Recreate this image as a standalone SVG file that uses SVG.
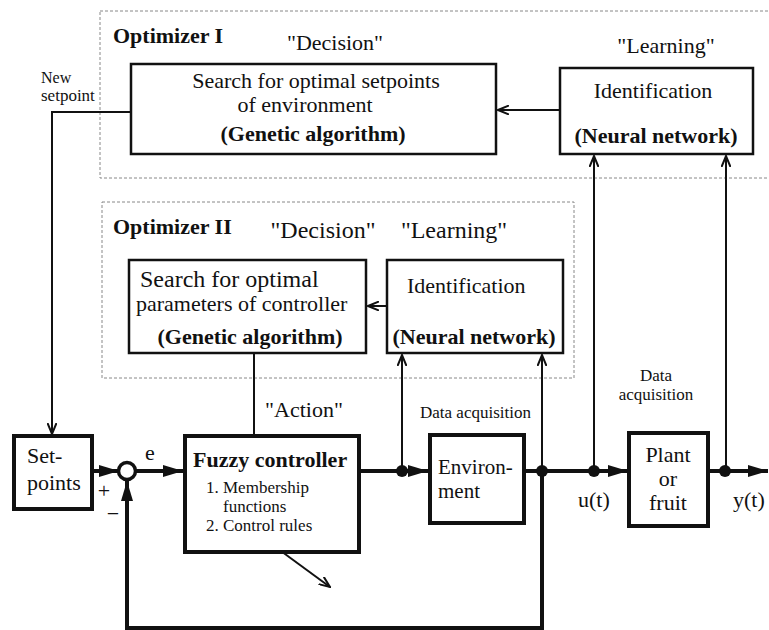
<svg xmlns="http://www.w3.org/2000/svg" width="769" height="630" viewBox="0 0 769 630" font-family="'Liberation Serif', 'Times New Roman', 'DejaVu Serif', serif">
<style>
text{font-family:"Liberation Serif","Times New Roman","DejaVu Serif",serif;fill:#111;}
.t22{font-size:22px;}
.t21{font-size:21px;}
.t24{font-size:24px;}
.t17{font-size:17px;}
.t16{font-size:16px;}
.b{font-weight:bold;}
.m{text-anchor:middle;}
.box{fill:#fff;stroke:#111;stroke-width:2.5;}
.tbox{fill:#fff;stroke:#111;stroke-width:4;}
.dash{fill:none;stroke:#888;stroke-width:1;stroke-dasharray:3 2;}
.thin{fill:none;stroke:#111;stroke-width:2;}
.thick{fill:none;stroke:#111;stroke-width:4;}
.dot{fill:#111;}
</style>
<defs>
<marker id="open" viewBox="0 0 12 10" refX="11" refY="5" markerWidth="12" markerHeight="10" markerUnits="userSpaceOnUse" orient="auto">
<path d="M0,0.5 L11,5 L0,9.5" fill="none" stroke="#111" stroke-width="2"/>
</marker>
<marker id="fill" viewBox="0 0 20 12" refX="20" refY="6" markerWidth="20" markerHeight="12" markerUnits="userSpaceOnUse" orient="auto">
<path d="M0,0 L20,6 L0,12 Z" fill="#111"/>
</marker>
</defs>
<rect width="769" height="630" fill="#fff"/>

<g id="optimizer1">
<rect class="dash" x="100" y="11" width="680" height="167"/>
<text class="t22 b" x="113" y="43">Optimizer I</text>
<text class="t22 m" x="335" y="50">"Decision"</text>
<text class="t22 m" x="666" y="53">"Learning"</text>
</g>
<g id="search1">
<rect class="box" x="131" y="64" width="365" height="90"/>
<text class="t22 m" x="316" y="88">Search for optimal setpoints</text>
<text class="t22 m" x="305" y="112">of environment</text>
<text class="t22 m b" x="313" y="141">(Genetic algorithm)</text>
</g>
<g id="ident1">
<rect class="box" x="560" y="68" width="193" height="86"/>
<text class="t22 m" x="653" y="98">Identification</text>
<text class="t22 m b" x="656" y="143">(Neural network)</text>
</g>

<g id="optimizer2">
<rect class="dash" x="102" y="202" width="472" height="176"/>
<text class="t22 b" x="113" y="234">Optimizer II</text>
<text class="t24 m" x="323" y="238">"Decision"</text>
<text class="t24 m" x="454" y="238">"Learning"</text>
</g>
<g id="search2">
<rect class="box" x="129" y="260" width="237" height="93"/>
<text class="t24" x="140" y="287">Search for optimal</text>
<text class="t22" x="136" y="311">parameters of controller</text>
<text class="t22 m b" x="250" y="344">(Genetic algorithm)</text>
</g>
<g id="ident2">
<rect class="box" x="387" y="260" width="176" height="93"/>
<text class="t22" x="407" y="293">Identification</text>
<text class="t22 m b" x="474" y="344">(Neural network)</text>
</g>

<g id="connectors">
<polyline class="thin" points="131,112 52,112 52,434" marker-end="url(#open)"/>
<line class="thin" x1="560" y1="110" x2="498" y2="110" marker-end="url(#open)"/>
<line class="thin" x1="387" y1="306" x2="368" y2="306" marker-end="url(#open)"/>
<line class="thin" x1="254" y1="353" x2="254" y2="436"/>
<line class="thin" x1="254" y1="436" x2="259" y2="443"/>
<line class="thin" x1="402" y1="471" x2="402" y2="355" marker-end="url(#open)"/>
<line class="thin" x1="542" y1="471" x2="542" y2="355" marker-end="url(#open)"/>
<line class="thin" x1="594" y1="471" x2="594" y2="156" marker-end="url(#open)"/>
<line class="thin" x1="726" y1="471" x2="726" y2="156" marker-end="url(#open)"/>
<line class="thick" x1="92" y1="471" x2="119" y2="471" marker-end="url(#fill)"/>
<line class="thick" x1="136" y1="471" x2="183" y2="471" marker-end="url(#fill)"/>
<line class="thick" x1="359" y1="471" x2="428" y2="471" marker-end="url(#fill)"/>
<line class="thick" x1="524" y1="471" x2="628" y2="471" marker-end="url(#fill)"/>
<line class="thick" x1="708" y1="471" x2="768" y2="471" marker-end="url(#fill)"/>
<polyline class="thick" points="542,471 542,628 127,628 127,481" marker-end="url(#fill)"/>
<circle cx="127" cy="471" r="8.5" fill="#fff" stroke="#111" stroke-width="3.5"/>
<circle class="dot" cx="402" cy="471" r="6"/>
<circle class="dot" cx="542" cy="471" r="6"/>
<circle class="dot" cx="594" cy="471" r="6"/>
<circle class="dot" cx="725" cy="471" r="6"/>
<line class="thin" x1="270" y1="543" x2="330" y2="587" marker-end="url(#open)"/>
</g>

<g id="labels">
<text class="t16" x="41" y="83">New</text>
<text class="t17" x="41" y="101">setpoint</text>
<text class="t22 m" x="304" y="417">"Action"</text>
<text class="t17" x="420" y="418">Data acquisition</text>
<text class="t17 m" x="656" y="381">Data</text>
<text class="t17 m" x="656" y="400">acquisition</text>
<text class="t22 m" x="150" y="460">e</text>
<text class="t22 m" x="104" y="498">+</text>
<text class="t22 m" x="113" y="521">−</text>
<text class="t22" x="578" y="507">u(t)</text>
<text class="t22" x="733" y="507">y(t)</text>
</g>

<g id="setpoints">
<rect class="tbox" x="14" y="436" width="78" height="73"/>
<text class="t22" x="27" y="463">Set-</text>
<text class="t22" x="27" y="490">points</text>
</g>
<g id="fuzzy">
<rect class="tbox" x="185" y="436" width="174" height="116"/>
<text class="t22 b" x="193" y="467">Fuzzy controller</text>
<text class="t17" x="206" y="493">1. Membership</text>
<text class="t17" x="223" y="512">functions</text>
<text class="t17" x="206" y="531">2. Control rules</text>
</g>
<g id="environment">
<rect class="tbox" x="430" y="435" width="94" height="88"/>
<text class="t21" x="438" y="474">Environ-</text>
<text class="t21" x="438" y="498">ment</text>
</g>
<g id="plant">
<rect class="tbox" x="629" y="433" width="79" height="93"/>
<text class="t22 m" x="668" y="462">Plant</text>
<text class="t22 m" x="668" y="486">or</text>
<text class="t22 m" x="668" y="510">fruit</text>
</g>
</svg>
